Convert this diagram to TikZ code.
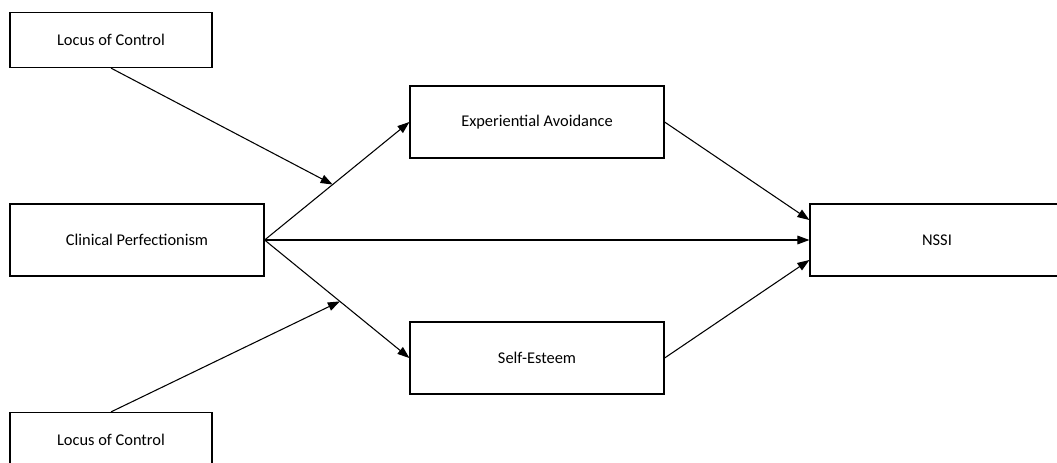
\documentclass[tikz,border=0pt]{standalone}
\usepackage{fontspec}
\setmainfont{Carlito}
\usetikzlibrary{positioning,calc,arrows.meta}

\begin{document}
\begin{tikzpicture}[->,>={Triangle[length=9pt,width=6.5pt]},line width=0.8pt,auto,on grid,x=0.75pt,y=0.75pt,
	var node/.style={rectangle,draw,line width=0.9pt,minimum width=190.5pt,minimum height=54pt,inner sep=0pt,font=\fontsize{12.3}{14}\selectfont},
	mod node/.style={var node,minimum width=151.5pt,minimum height=41.25pt}]

	\useasboundingbox (-137,240) rectangle (920,-222);

	\node[var node] (cp) at (0,0) {Clinical Perfectionism};
	\node[var node] (ea) [above right=88.5pt and 300pt of cp] {Experiential Avoidance};
	\node[var node] (se) [below right=88.5pt and 300pt of cp] {Self-Esteem};
	\node[var node] (nssi) [right=600pt of cp] {NSSI};
	\node[mod node] (loc1) [above left=150pt and 19.5pt of cp] {Locus of Control};
	\node[mod node] (loc2) [below left=150pt and 19.5pt of cp] {Locus of Control};

	% points where the moderators meet the paths
	\coordinate (m1) at ($(cp.east)!0.47!(ea.west)$);
	\coordinate (m2) at ($(cp.east)!0.52!(se.west)$);
	\coordinate (nssi-in1) at ($(nssi.west)+(0,20)$);
	\coordinate (nssi-in2) at ($(nssi.west)+(0,-20)$);

	\path
		(cp.east)
		edge (ea.west)
		edge (nssi.west)
		edge (se.west)

		(ea.east)
		edge (nssi-in1)

		(se.east)
		edge (nssi-in2)

		(loc1.south)
		edge (m1)

		(loc2.north)
		edge (m2)
		;

\end{tikzpicture}
\end{document}
